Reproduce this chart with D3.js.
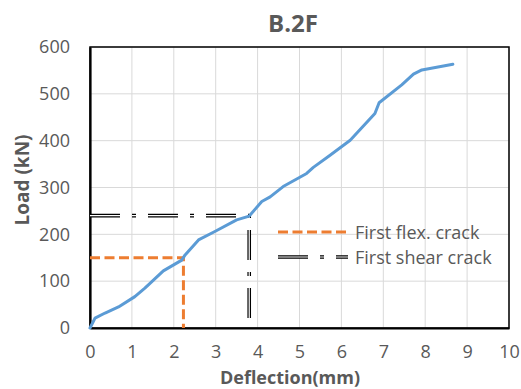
<!DOCTYPE html>
<html>
<head>
<meta charset="utf-8">
<script src="https://cdn.jsdelivr.net/npm/d3@7"></script>
<style>
  body { margin: 0; background: #fff; }
  text { font-family: "Open Sans", sans-serif; fill: #595959; }
</style>
</head>
<body>
<svg id="chart" width="521" height="389"></svg>
<script>
// load-deflection curve
const deflection = [0, 0.12, 0.36, 0.68, 1.07, 1.31, 1.75, 2.19, 2.27, 2.59, 2.98, 3.5, 3.8, 4.1, 4.3, 4.61, 5.17, 5.33, 5.73, 6.21, 6.8, 6.9, 7.44, 7.72, 7.92, 8.66];
const load = [0, 21, 32, 45, 67, 85, 122, 145, 156, 188, 206, 231, 239, 270, 280, 302, 330, 343, 369, 401, 458, 481, 519, 542, 551, 563];

// crack markers [deflection, load]
const flexCrack = [2.23, 150];
const shearCrack = [3.8, 240];

const xTicks = [0, 1, 2, 3, 4, 5, 6, 7, 8, 9, 10];
const yTicks = [0, 100, 200, 300, 400, 500, 600];
const legendLabels = ["First flex. crack", "First shear crack"];

const svg = d3.select("#chart");
const m = {left: 90, top: 47, right: 12, bottom: 61};
const W = 521 - m.left - m.right, H = 389 - m.top - m.bottom;

const x = d3.scaleLinear().domain([0, 10]).range([0, W]);
const y = d3.scaleLinear().domain([0, 600]).range([H, 0]);

const g = svg.append("g").attr("transform", `translate(${m.left},${m.top})`);

// gridlines
g.selectAll(".vg").data(xTicks).enter().append("line")
  .attr("x1", d => x(d)).attr("x2", d => x(d))
  .attr("y1", 0).attr("y2", H)
  .attr("stroke", "#d9d9d9").attr("stroke-width", 1);
g.selectAll(".hg").data(yTicks).enter().append("line")
  .attr("x1", 0).attr("x2", W)
  .attr("y1", d => y(d)).attr("y2", d => y(d))
  .attr("stroke", "#d9d9d9").attr("stroke-width", 1);

// frame
g.append("rect").attr("width", W).attr("height", H)
  .attr("fill", "none").attr("stroke", "#000").attr("stroke-width", 1.5);

// axes
const xAxis = g.append("g").attr("transform", `translate(0,${H})`)
  .call(d3.axisBottom(x).tickValues(xTicks).tickSize(0).tickPadding(17));
const yAxis = g.append("g")
  .call(d3.axisLeft(y).tickValues(yTicks).tickSize(0).tickPadding(20));
[xAxis, yAxis].forEach(a => {
  a.select(".domain").attr("stroke", "#000").attr("stroke-width", 2.2);
  a.selectAll("text").attr("font-size", 18).attr("fill", "#595959")
    .attr("font-family", "Open Sans, sans-serif");
});

// helper for the double dash-dot line
function doubleLine(sel, pts, offset) {
  const ln = d3.line().x(d => x(d[0])).y(d => y(d[1]));
  sel.append("path").attr("d", ln(pts)).attr("fill", "none")
    .attr("stroke", "#000").attr("stroke-width", 3.6)
    .attr("stroke-dasharray", "30,12,4,12").attr("stroke-dashoffset", offset);
  sel.append("path").attr("d", ln(pts)).attr("fill", "none")
    .attr("stroke", "#fff").attr("stroke-width", 1.2)
    .attr("stroke-dasharray", "30,12,4,12").attr("stroke-dashoffset", offset);
}

// shear crack lines
doubleLine(g, [[0, shearCrack[1]], [shearCrack[0], shearCrack[1]]], 0);
doubleLine(g, [[shearCrack[0], shearCrack[1]], [shearCrack[0], 0]], 43.6);

// flex crack lines
g.append("path")
  .attr("d", d3.line().x(d => x(d[0])).y(d => y(d[1]))([[0, flexCrack[1]], flexCrack, [flexCrack[0], 0]]))
  .attr("fill", "none").attr("stroke", "#ed7d31").attr("stroke-width", 3)
  .attr("stroke-dasharray", "10,4.5");

// main curve
const curve = deflection.map((d, i) => [d, load[i]]);
g.append("path")
  .attr("d", d3.line().x(d => x(d[0])).y(d => y(d[1]))(curve))
  .attr("fill", "none").attr("stroke", "#5b9bd5").attr("stroke-width", 3)
  .attr("stroke-linejoin", "round").attr("stroke-linecap", "round");

// legend
const lg = svg.append("g").attr("transform", "translate(278,232)");
lg.append("line").attr("x1", 0).attr("x2", 70).attr("y1", 0).attr("y2", 0)
  .attr("stroke", "#ed7d31").attr("stroke-width", 3).attr("stroke-dasharray", "10,4.5");
const lg2 = lg.append("g").attr("transform", "translate(0,25)");
[["#000", 3.6], ["#fff", 1.2]].forEach(s => {
  lg2.append("line").attr("x1", 0).attr("x2", 70)
    .attr("stroke", s[0]).attr("stroke-width", s[1]).attr("stroke-dasharray", "30,12,4,12");
});
lg.selectAll(".lt").data(legendLabels).enter().append("text")
  .attr("x", 77).attr("y", (d, i) => i * 25 + 6.5)
  .attr("font-size", 18).text(d => d);

// titles
svg.append("text").attr("x", 290).attr("y", 384).attr("text-anchor", "middle")
  .attr("font-size", 18).attr("font-weight", "bold").text("Deflection(mm)");
svg.append("text").attr("x", 293).attr("y", 32).attr("text-anchor", "middle")
  .attr("font-size", 24).attr("font-weight", "bold").text("B.2F");
svg.append("text").attr("transform", "translate(29,180) rotate(-90)")
  .attr("text-anchor", "middle").attr("font-size", 19).attr("font-weight", "bold")
  .text("Load (kN)");
</script>
</body>
</html>
